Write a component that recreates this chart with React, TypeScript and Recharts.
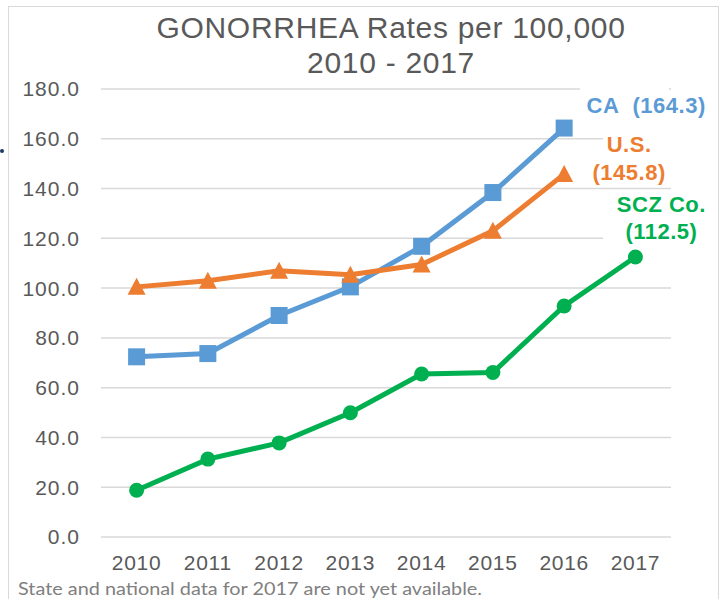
import { LineChart, Line, XAxis, YAxis, CartesianGrid, LabelList } from "recharts";

const years = ["2010", "2011", "2012", "2013", "2014", "2015", "2016", "2017"];
const caRates = [72.4, 73.7, 89.0, 100.5, 116.8, 138.4, 164.3, null];
const usRates = [100.5, 103.0, 107.0, 105.4, 109.5, 123.0, 145.8, null];
const sczRates = [18.8, 31.3, 37.8, 49.9, 65.5, 66.1, 92.8, 112.5];
const yTicks = [0, 20, 40, 60, 80, 100, 120, 140, 160, 180];

const BLUE = "#5B9BD5";
const ORANGE = "#ED7D31";
const GREEN = "#00B050";
const GRAY_TEXT = "#595959";
const FONT = "'Liberation Sans', Arial, sans-serif";

const data = years.map((y, i) => ({ year: y, ca: caRates[i], us: usRates[i], scz: sczRates[i] }));

const lastIdx = (arr: (number | null)[]) => {
  let k = -1;
  arr.forEach((v, i) => { if (v != null) k = i; });
  return k;
};

function SquareDot(props: any) {
  const { cx, cy, index } = props;
  if (cx == null || cy == null || props.value == null) return <g key={index} />;
  return <rect key={index} x={cx - 8.5} y={cy - 8.5} width={17} height={17} fill={BLUE} />;
}

function TriangleDot(props: any) {
  const { cx, cy, index } = props;
  if (cx == null || cy == null || props.value == null) return <g key={index} />;
  return (
    <polygon
      key={index}
      points={`${cx},${cy - 9} ${cx - 9},${cy + 8} ${cx + 9},${cy + 8}`}
      fill={ORANGE}
    />
  );
}

function CircleDot(props: any) {
  const { cx, cy, index } = props;
  if (cx == null || cy == null || props.value == null) return <g key={index} />;
  return <circle key={index} cx={cx} cy={cy} r={7.5} fill={GREEN} />;
}

const labelStyle = { fontFamily: FONT, fontSize: 22, fontWeight: 700, letterSpacing: 0.5 };

// data labels sit to the right of the last point, on a white box like Excel's
const CaLabel = (props: any) => {
  const { x, y, value, index } = props;
  if (index !== lastIdx(caRates) || value == null) return null;
  return (
    <g>
      <rect x={580} y={y - 45} width={89} height={30} fill="#fff" />
      <text x={x + 82} y={y - 15} textAnchor="middle" fill={BLUE} style={labelStyle}>
        {`CA\u00a0 (${value.toFixed(1)})`}
      </text>
    </g>
  );
};

const UsLabel = (props: any) => {
  const { x, y, value, index } = props;
  if (index !== lastIdx(usRates) || value == null) return null;
  return (
    <g>
      <rect x={603} y={y - 45} width={70} height={58} fill="#fff" />
      <text x={x + 65} y={y - 22} textAnchor="middle" fill={ORANGE} style={labelStyle}>U.S.</text>
      <text x={x + 65} y={y + 6} textAnchor="middle" fill={ORANGE} style={labelStyle}>
        {`(${value.toFixed(1)})`}
      </text>
    </g>
  );
};

const SczLabel = (props: any) => {
  const { x, y, value, index } = props;
  if (index !== lastIdx(sczRates) || value == null) return null;
  return (
    <g>
      <rect x={603} y={y - 66} width={70} height={55} fill="#fff" />
      <text x={x + 26} y={y - 45} textAnchor="middle" fill={GREEN} style={labelStyle}>SCZ Co.</text>
      <text x={x + 26} y={y - 18} textAnchor="middle" fill={GREEN} style={labelStyle}>
        {`(${value.toFixed(1)})`}
      </text>
    </g>
  );
};

export default function App() {
  return (
    <div style={{ position: "fixed", left: 0, top: 0, width: 725, height: 599, background: "#fff", overflow: "hidden" }}>
      <div style={{
        position: "absolute", left: 8, top: 6, width: 711, height: 620,
        border: "1.5px solid #d9d9d9", boxSizing: "border-box",
      }} />
      <div style={{ position: "absolute", left: 0, top: 149, width: 4, height: 4, borderRadius: 2, background: "#1f3864" }} />
      <div style={{
        position: "absolute", left: 391 - 300, top: 10, width: 600, textAlign: "center",
        fontFamily: FONT, fontSize: 30, lineHeight: "35px", color: GRAY_TEXT, letterSpacing: 0.7,
      }}>
        GONORRHEA Rates per 100,000
        <br />
        2010 - 2017
      </div>
      <div style={{ position: "absolute", left: 0, top: 0 }}>
        <LineChart width={725} height={599} data={data} margin={{ top: 89, right: 54, bottom: 0, left: 0 }}>
          <CartesianGrid vertical={false} stroke="#d9d9d9" strokeWidth={1.5} />
          <XAxis
            dataKey="year"
            axisLine={false}
            tickLine={false}
            tickSize={0}
            tickMargin={18}
            height={62}
            interval={0}
            padding={{ left: 35.6, right: 35.6 }}
            tick={{ fontSize: 21, fill: GRAY_TEXT, fontFamily: FONT, letterSpacing: 0.7 }}
          />
          <YAxis
            domain={[0, 180]}
            ticks={yTicks}
            width={101}
            axisLine={false}
            tickLine={false}
            tickSize={0}
            tickMargin={21}
            tickFormatter={(v: number) => v.toFixed(1)}
            tick={{ fontSize: 21, fill: GRAY_TEXT, fontFamily: FONT, letterSpacing: 1 }}
          />
          <Line dataKey="ca" stroke={BLUE} strokeWidth={5} dot={SquareDot} activeDot={false} isAnimationActive={false}>
            <LabelList dataKey="ca" content={CaLabel} />
          </Line>
          <Line dataKey="us" stroke={ORANGE} strokeWidth={5} dot={TriangleDot} activeDot={false} isAnimationActive={false}>
            <LabelList dataKey="us" content={UsLabel} />
          </Line>
          <Line dataKey="scz" stroke={GREEN} strokeWidth={5} dot={CircleDot} activeDot={false} isAnimationActive={false}>
            <LabelList dataKey="scz" content={SczLabel} />
          </Line>
        </LineChart>
      </div>
      <svg style={{ position: "absolute", left: 0, top: 0 }} width={725} height={599}>
        <text x={18} y={595} textLength={464} lengthAdjust="spacingAndGlyphs"
          fill="#808080" style={{ fontFamily: "Lato, 'Open Sans', sans-serif", fontSize: 18 }}>
          State and national data for 2017 are not yet available.
        </text>
      </svg>
    </div>
  );
}
